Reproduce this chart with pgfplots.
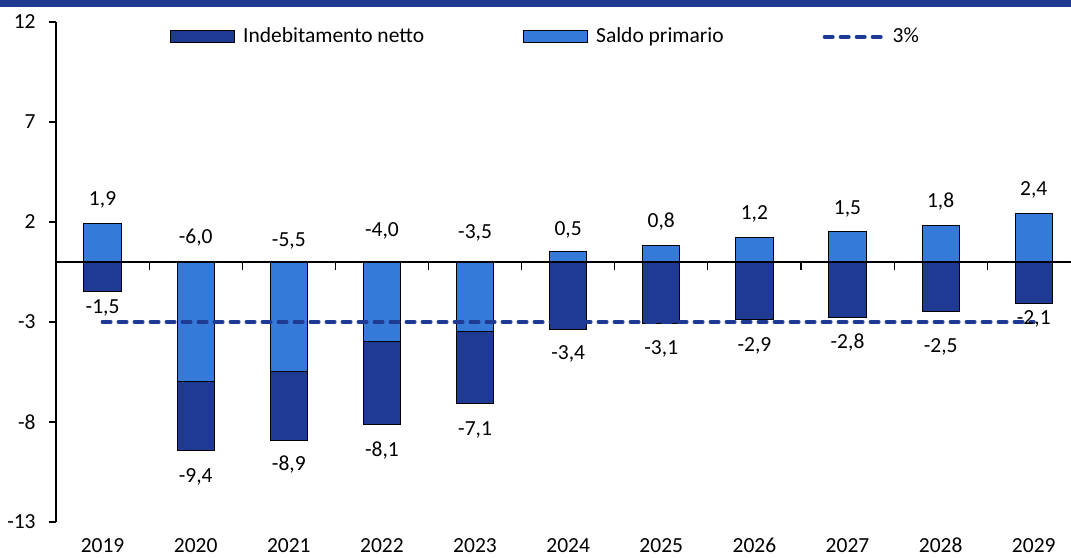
\documentclass[border=0pt]{standalone}
\usepackage{fontspec}
\setmainfont{Carlito}
\usepackage{pgfplots}
\usepackage{pgfplotstable}
\pgfplotsset{compat=1.18}
\definecolor{darkbar}{HTML}{1F3A93}
\definecolor{lightbar}{HTML}{3579D9}
\definecolor{band}{HTML}{203A8F}

\newcommand{\chartfont}{\fontsize{21.5bp}{25bp}\selectfont}

\pgfplotsset{
  patch legend/.style={legend image code/.code={\draw[##1] (0bp,-6bp) rectangle (64bp,6bp); \path (70bp,0bp);}},
  dash legend/.style={legend image code/.code={\draw[##1] (2bp,0bp) -- (60bp,0bp); \path (66bp,0bp);}},
}

% valori in % del PIL
\pgfplotstableread{
x netto primario
0 -1.5 1.9
1 -9.4 -6.0
2 -8.9 -5.5
3 -8.1 -4.0
4 -7.1 -3.5
5 -3.4 0.5
6 -3.1 0.8
7 -2.9 1.2
8 -2.8 1.5
9 -2.5 1.8
10 -2.1 2.4
}\saldi

% posizione delle etichette
\pgfplotstableread{
x y lab
0 3.1 1,9
1 1.2 -6,0
2 1.05 -5,5
3 1.55 -4,0
4 1.45 -3,5
5 1.6 0,5
6 2.0 0,8
7 2.4 1,2
8 2.65 1,5
9 3.0 1,8
10 3.6 2,4
0 -2.3 -1,5
1 -10.75 -9,4
2 -10.15 -8,9
3 -9.45 -8,1
4 -8.4 -7,1
5 -4.6 -3,4
6 -4.35 -3,1
7 -4.2 -2,9
8 -4.05 -2,8
9 -4.25 -2,5
10 -2.85 -2,1
}\etichette

\begin{document}
\chartfont
\begin{tikzpicture}
\useasboundingbox (-56bp,-36bp) rectangle (1015bp,522bp);
\begin{axis}[
  at={(0,0)}, anchor=south west,
  scale only axis, width=1015bp, height=500bp,
  xmin=-0.5, xmax=10.4, ymin=-13, ymax=12,
  axis x line=bottom, axis y line=left,
  x axis line style={draw=none}, y axis line style={-, black, line width=1.1bp},
  xtick={0,1,2,3,4,5,6,7,8,9,10},
  xticklabels={2019,2020,2021,2022,2023,2024,2025,2026,2027,2028,2029},
  xtick style={draw=none},
  xticklabel style={text height=14bp, text depth=0bp, yshift=-2bp},
  ytick={-13,-8,-3,2,7,12}, yticklabels={-13,-8,-3,2,7,12},
  tick align=outside, major tick length=7bp,
  ytick style={black, line width=1.1bp},
  yticklabel style={xshift=-6bp},
  tick label style={font=\chartfont},
  legend columns=3,
  legend cell align=left,
  legend style={draw=none, fill=none, inner sep=0pt,
    at={(axis description cs:0.1123,0.97)}, anchor=west,
    font=\chartfont,
    /tikz/every even column/.append style={column sep=97bp}},
  clip=false,
]
\addplot[ybar, bar width=0.4, bar shift=0pt, fill=darkbar, draw=black, line width=1bp, patch legend]
  table[x=x, y=netto]{\saldi};
\addlegendentry{Indebitamento netto}
\addplot[ybar, bar width=0.4, bar shift=0pt, fill=lightbar, draw=black, line width=1bp, patch legend]
  table[x=x, y=primario]{\saldi};
\addlegendentry{Saldo primario}
\draw[black, line width=1.1bp] (axis cs:-0.5,0) -- (axis cs:10.4,0)
  (axis cs:0.5,0) -- ([yshift=-8bp]axis cs:0.5,0)
  (axis cs:1.5,0) -- ([yshift=-8bp]axis cs:1.5,0)
  (axis cs:2.5,0) -- ([yshift=-8bp]axis cs:2.5,0)
  (axis cs:3.5,0) -- ([yshift=-8bp]axis cs:3.5,0)
  (axis cs:4.5,0) -- ([yshift=-8bp]axis cs:4.5,0)
  (axis cs:5.5,0) -- ([yshift=-8bp]axis cs:5.5,0)
  (axis cs:6.5,0) -- ([yshift=-8bp]axis cs:6.5,0)
  (axis cs:7.5,0) -- ([yshift=-8bp]axis cs:7.5,0)
  (axis cs:8.5,0) -- ([yshift=-8bp]axis cs:8.5,0)
  (axis cs:9.5,0) -- ([yshift=-8bp]axis cs:9.5,0);
\addplot[darkbar, line width=4bp, dash pattern=on 8bp off 8bp, line cap=round, dash legend]
  coordinates {(0,-3) (10,-3)};
\addlegendentry{3\%}
\addplot[draw=none, mark=none, forget plot, nodes near coords,
  point meta=explicit symbolic, nodes near coords align={center},
  nodes near coords style={font=\chartfont, text=black}]
  table[x=x, y=y, meta=lab]{\etichette};
\end{axis}
\fill[band] (-56bp,515bp) rectangle (1015bp,522bp);
\end{tikzpicture}
\end{document}
